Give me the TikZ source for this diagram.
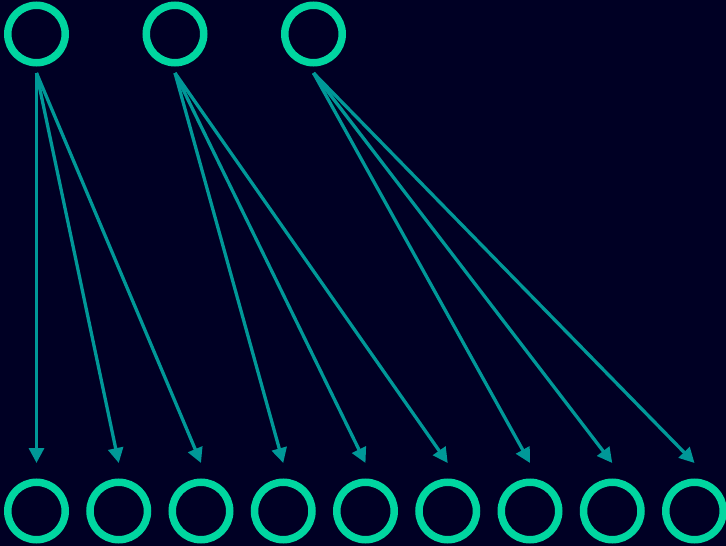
\documentclass[tikz,border=0pt]{standalone}
\usetikzlibrary{arrows.meta}
\definecolor{bgc}{RGB}{0,0,36}
\definecolor{ringc}{RGB}{0,214,160}
\definecolor{arrc}{RGB}{0,152,152}
\tikzset{
  ring/.style={circle,draw=ringc,line width=7.5pt,minimum size=57.5pt,inner sep=0pt},
  link/.style={draw=arrc,line width=3.3pt,-{Triangle[width=15pt,length=15pt]}}
}
\begin{document}
\begin{tikzpicture}[x=1pt,y=-1pt]
\fill[bgc] (0,0) rectangle (726,546);
\useasboundingbox (0,0) rectangle (726,546);
\node[ring] (t1) at (36.5,34) {};
\node[ring] (t2) at (175,34) {};
\node[ring] (t3) at (313.5,34) {};
\foreach \i in {1,...,9}{
  \node[ring] (b\i) at ({36.5+82.25*(\i-1)},511) {};
  \coordinate (e\i) at ([yshift=15.5pt]b\i.north);
}
\foreach \i in {1,2,3}{
  \coordinate (s\i) at ([yshift=-6.5pt]t\i.south);
}
\foreach \s/\e in {1/1,1/2,1/3,2/4,2/5,2/6,3/7,3/8,3/9}{
  \draw[link] (s\s) -- (e\e);
}
\end{tikzpicture}
\end{document}
